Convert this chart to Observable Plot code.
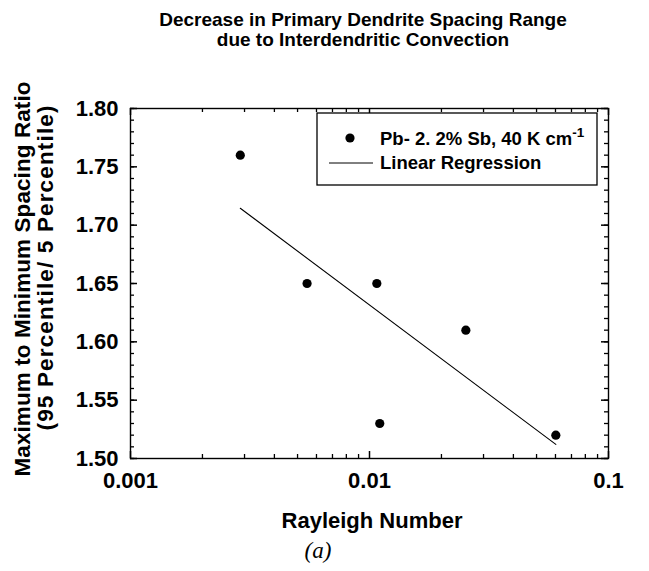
<!DOCTYPE html>
<html>
<head>
<meta charset="utf-8">
<script src="https://cdn.jsdelivr.net/npm/d3@7"></script>
<script src="https://cdn.jsdelivr.net/npm/@observablehq/plot@0.6"></script>
<style>
  body { margin: 0; background: #fff; }
  #chart svg { display: block; }
</style>
</head>
<body>
<div id="chart"></div>
<script>
// Measured spacing-range ratio against Rayleigh number (Pb-2.2% Sb, G = 40 K/cm)
const rayleigh = [0.00288, 0.00548, 0.01073, 0.01104, 0.0253, 0.0602];
const spacingRatio = [1.76, 1.65, 1.65, 1.53, 1.61, 1.52];

const xTickValues = [0.001, 0.01, 0.1];
const xTickLabels = ["0.001", "0.01", "0.1"];
const yTickValues = [1.50, 1.55, 1.60, 1.65, 1.70, 1.75, 1.80];
const yTickLabels = ["1.50", "1.55", "1.60", "1.65", "1.70", "1.75", "1.80"];

const titleLines = ["Decrease in Primary Dendrite Spacing Range", "due to Interdendritic Convection"];
const yLabelLines = ["Maximum to Minimum Spacing Ratio", "(95 Percentile/ 5 Percentile)"];
const xLabel = "Rayleigh Number";
const seriesLabel = "Pb- 2. 2% Sb, 40 K cm";
const seriesLabelExponent = "-1";
const fitLabel = "Linear Regression";
const caption = "(a)";

const points = rayleigh.map((x, i) => ({x, y: spacingRatio[i]}));

// Least-squares fit of the ratio against log10(Ra)
const logRa = rayleigh.map(Math.log10);
const mx = d3.mean(logRa), my = d3.mean(spacingRatio);
const slope = d3.sum(logRa, (v, i) => (v - mx) * (spacingRatio[i] - my)) / d3.sum(logRa, v => (v - mx) ** 2);
const intercept = my - slope * mx;
const fit = d3.extent(rayleigh).map(x => ({x, y: intercept + slope * Math.log10(x)}));

// Minor ticks: 2..9 within each decade, every 0.01 on the ratio axis
const xMinor = [0.001, 0.01].flatMap(base => d3.range(2, 10).map(k => k * base));
const yMinor = d3.range(150, 181).map(v => v / 100);

const sans = '"Liberation Sans", Arial, Helvetica, sans-serif';
const fmtX = d => xTickLabels[xTickValues.indexOf(d)];
const fmtY = d => yTickLabels[yTickValues.indexOf(d)];

const W = 649, H = 571;
const mL = 130, mR = 41, mT = 108, mB = 113;
const innerW = W - mL - mR, innerH = H - mT - mB;
const xDomain = [0.001, 0.1], yDomain = [1.5, 1.8];
const minorLen = 4, majorLen = 7;

// Tick lengths converted from pixels into each scale's units
const yPerPx = (yDomain[1] - yDomain[0]) / innerH;
const decadesPerPx = Math.log10(xDomain[1] / xDomain[0]) / innerW;

// Short inward ticks along each side of the frame
const inwardX = (values, len, sw) => [
  Plot.ruleX(values, {x: d => d, y1: yDomain[0], y2: yDomain[0] + len * yPerPx, stroke: "#000", strokeWidth: sw}),
  Plot.ruleX(values, {x: d => d, y1: yDomain[1], y2: yDomain[1] - len * yPerPx, stroke: "#000", strokeWidth: sw})
];
const inwardY = (values, len, sw) => [
  Plot.ruleY(values, {y: d => d, x1: xDomain[0], x2: xDomain[0] * 10 ** (len * decadesPerPx), stroke: "#000", strokeWidth: sw}),
  Plot.ruleY(values, {y: d => d, x1: xDomain[1], x2: xDomain[1] / 10 ** (len * decadesPerPx), stroke: "#000", strokeWidth: sw})
];

const plot = Plot.plot({
  width: W,
  height: H,
  marginLeft: mL,
  marginRight: mR,
  marginTop: mT,
  marginBottom: mB,
  style: {fontFamily: sans, fontSize: "22px", fontWeight: "bold", color: "#000", background: "#fff", overflow: "visible"},
  x: {type: "log", domain: xDomain},
  y: {domain: yDomain},
  marks: [
    ...inwardX(xMinor, minorLen, 1.3),
    ...inwardX(xTickValues, majorLen, 1.5),
    ...inwardY(yMinor, minorLen, 1.3),
    ...inwardY(yTickValues, majorLen, 1.5),
    // tick labels
    Plot.axisX({anchor: "bottom", ticks: xTickValues, tickSize: 0, tickPadding: 14, tickFormat: fmtX, label: null}),
    Plot.axisY({anchor: "left", ticks: yTickValues, tickSize: 0, tickPadding: 12, tickFormat: fmtY, label: null}),
    Plot.frame({stroke: "#000", strokeWidth: 1.4}),
    Plot.line(fit, {x: "x", y: "y", stroke: "#000", strokeWidth: 1.1}),
    Plot.dot(points, {x: "x", y: "y", r: 4.6, fill: "#000", stroke: "none"})
  ]
});

document.getElementById("chart").append(plot);

const svg = d3.select(plot);

// Title
const title = svg.append("text")
  .attr("text-anchor", "middle")
  .attr("font-family", sans)
  .attr("font-weight", "bold")
  .attr("font-size", 19)
  .attr("fill", "#000");
titleLines.forEach((line, i) => {
  title.append("tspan").attr("x", 363).attr("y", 26 + i * 20).text(line);
});

// Y axis title (two rotated lines)
const yTitleSpecs = [
  {center: 279, baseline: 30, length: 395},
  {center: 268, baseline: 53, length: 325}
];
yLabelLines.forEach((line, i) => {
  const s = yTitleSpecs[i];
  svg.append("text")
    .attr("transform", `translate(${s.baseline},${s.center}) rotate(-90)`)
    .attr("text-anchor", "middle")
    .attr("font-family", sans)
    .attr("font-weight", "bold")
    .attr("font-size", 22.5)
    .attr("textLength", s.length)
    .attr("lengthAdjust", "spacing")
    .attr("fill", "#000")
    .text(line);
});

// X axis title
svg.append("text")
  .attr("x", 372)
  .attr("y", 528)
  .attr("text-anchor", "middle")
  .attr("font-family", sans)
  .attr("font-weight", "bold")
  .attr("font-size", 22)
  .attr("fill", "#000")
  .text(xLabel);

// Panel caption
svg.append("text")
  .attr("x", 318)
  .attr("y", 558)
  .attr("text-anchor", "middle")
  .attr("font-family", '"Liberation Serif", "Times New Roman", serif')
  .attr("font-style", "italic")
  .attr("font-weight", "normal")
  .attr("font-size", 23)
  .attr("fill", "#000")
  .text(caption);

// Legend
const lg = svg.append("g")
  .attr("font-family", sans)
  .attr("font-weight", "bold")
  .attr("font-size", 18.5)
  .attr("text-anchor", "start")
  .attr("fill", "#000");
lg.append("rect")
  .attr("x", 317).attr("y", 113).attr("width", 280).attr("height", 72)
  .attr("fill", "#fff").attr("stroke", "#000").attr("stroke-width", 1.3);
lg.append("circle").attr("cx", 350).attr("cy", 138).attr("r", 4.6).attr("fill", "#000");
const t1 = lg.append("text").attr("x", 380).attr("y", 145).text(seriesLabel);
t1.append("tspan").attr("dy", -8).attr("font-size", 13.5).text(seriesLabelExponent);
lg.append("line")
  .attr("x1", 329).attr("x2", 373).attr("y1", 163).attr("y2", 163)
  .attr("stroke", "#000").attr("stroke-width", 1);
lg.append("text").attr("x", 380).attr("y", 169).text(fitLabel);
</script>
</body>
</html>
